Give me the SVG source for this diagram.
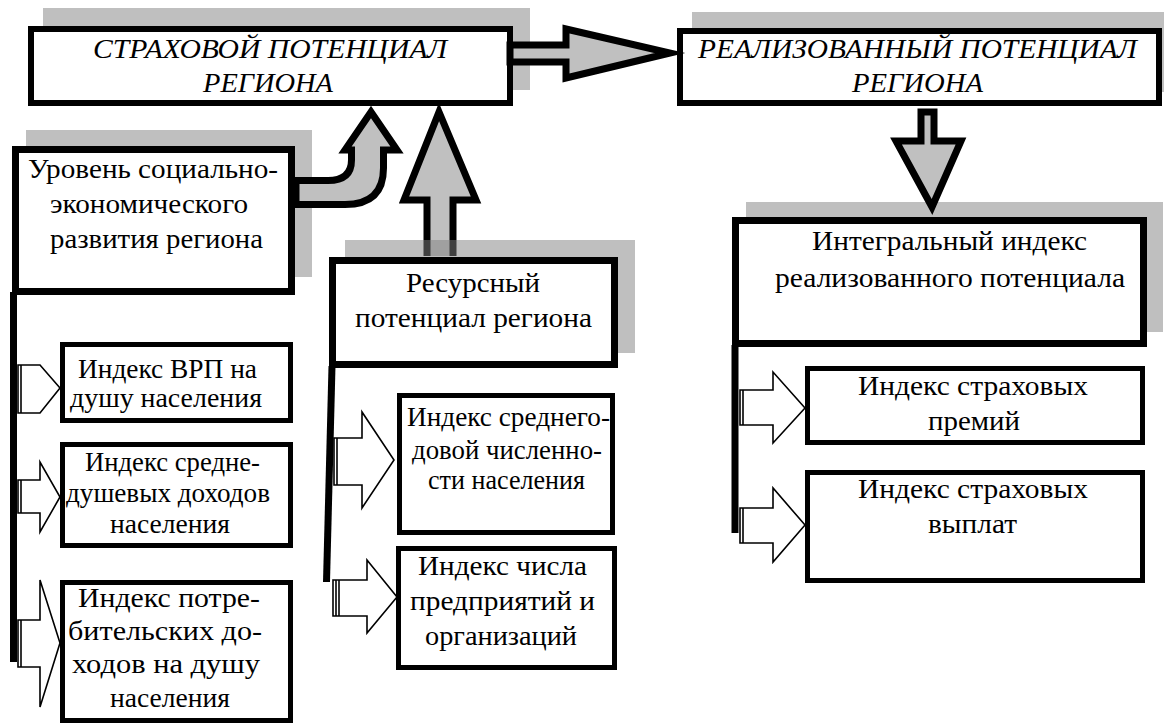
<svg xmlns="http://www.w3.org/2000/svg" width="1164" height="726" viewBox="0 0 1164 726">
<defs>
<path id="bigRight" d="M 510 45 L 566 45 L 566 29 L 670 53 L 566 78 L 566 62 L 510 62 Z"/>
</defs>
<rect x="0" y="0" width="1164" height="726" fill="#ffffff"/>

<g id="node-strakhovoy">
<rect x="43" y="8" width="487" height="82" fill="#808080" fill-opacity="0.5"/>
<rect x="31" y="29" width="479" height="74" fill="#ffffff" stroke="#000000" stroke-width="6"/>
<text font-family="Liberation Serif" font-size="27" font-style="italic" x="93" y="58" textLength="354" lengthAdjust="spacingAndGlyphs">СТРАХОВОЙ ПОТЕНЦИАЛ</text>
<text font-family="Liberation Serif" font-size="27" font-style="italic" x="203" y="92" textLength="130" lengthAdjust="spacingAndGlyphs">РЕГИОНА</text>
</g>

<g id="node-realizovanny">
<rect x="692" y="12" width="472" height="80" fill="#808080" fill-opacity="0.5"/>
<rect x="680" y="31" width="479" height="72" fill="#ffffff" stroke="#000000" stroke-width="6"/>
<text font-family="Liberation Serif" font-size="27" font-style="italic" x="698" y="58" textLength="439" lengthAdjust="spacingAndGlyphs">РЕАЛИЗОВАННЫЙ ПОТЕНЦИАЛ</text>
<text font-family="Liberation Serif" font-size="27" font-style="italic" x="852" y="92" textLength="131" lengthAdjust="spacingAndGlyphs">РЕГИОНА</text>
</g>

<g id="node-uroven">
<rect x="26" y="130" width="286" height="147" fill="#808080" fill-opacity="0.5"/>
<rect x="15.5" y="149.5" width="276" height="142" fill="#ffffff" stroke="#000000" stroke-width="7"/>
<text font-family="Liberation Serif" font-size="27" x="28" y="178" textLength="250" lengthAdjust="spacingAndGlyphs">Уровень социально-</text>
<text font-family="Liberation Serif" font-size="27" x="50" y="213" textLength="198" lengthAdjust="spacingAndGlyphs">экономического</text>
<text font-family="Liberation Serif" font-size="27" x="50" y="248" textLength="213" lengthAdjust="spacingAndGlyphs">развития региона</text>
</g>

<g id="node-integral">
<rect x="746" y="202" width="417" height="130" fill="#808080" fill-opacity="0.5"/>
<rect x="735.5" y="220.5" width="408" height="123" fill="#ffffff" stroke="#000000" stroke-width="7"/>
<text font-family="Liberation Serif" font-size="27" x="812" y="250" textLength="275" lengthAdjust="spacingAndGlyphs">Интегральный индекс</text>
<text font-family="Liberation Serif" font-size="27" x="775" y="287" textLength="350" lengthAdjust="spacingAndGlyphs">реализованного потенциала</text>
</g>

<g id="node-vrp">
<rect x="62.5" y="344.5" width="228" height="76" fill="#ffffff" stroke="#000000" stroke-width="5"/>
<text font-family="Liberation Serif" font-size="27" x="78" y="378" textLength="179" lengthAdjust="spacingAndGlyphs">Индекс ВРП на</text>
<text font-family="Liberation Serif" font-size="27" x="70" y="407" textLength="192" lengthAdjust="spacingAndGlyphs">душу населения</text>
</g>

<g id="node-srednedush">
<rect x="62.5" y="444.5" width="228" height="101" fill="#ffffff" stroke="#000000" stroke-width="5"/>
<text font-family="Liberation Serif" font-size="27" x="85" y="471" textLength="175" lengthAdjust="spacingAndGlyphs">Индекс средне-</text>
<text font-family="Liberation Serif" font-size="27" x="66" y="502" textLength="204" lengthAdjust="spacingAndGlyphs">душевых доходов</text>
<text font-family="Liberation Serif" font-size="27" x="110" y="533" textLength="120" lengthAdjust="spacingAndGlyphs">населения</text>
</g>

<g id="node-potreb">
<rect x="62.5" y="582.5" width="228" height="138" fill="#ffffff" stroke="#000000" stroke-width="5"/>
<text font-family="Liberation Serif" font-size="27" x="78" y="607" textLength="182" lengthAdjust="spacingAndGlyphs">Индекс потре-</text>
<text font-family="Liberation Serif" font-size="27" x="68" y="640" textLength="194" lengthAdjust="spacingAndGlyphs">бительских до-</text>
<text font-family="Liberation Serif" font-size="27" x="72" y="673" textLength="188" lengthAdjust="spacingAndGlyphs">ходов на душу</text>
<text font-family="Liberation Serif" font-size="27" x="110" y="707" textLength="120" lengthAdjust="spacingAndGlyphs">населения</text>
</g>

<g id="node-srednegod">
<rect x="399.5" y="395.5" width="213" height="137" fill="#ffffff" stroke="#000000" stroke-width="5"/>
<text font-family="Liberation Serif" font-size="27" x="407" y="426" textLength="203" lengthAdjust="spacingAndGlyphs">Индекс среднего-</text>
<text font-family="Liberation Serif" font-size="27" x="412" y="459" textLength="190" lengthAdjust="spacingAndGlyphs">довой численно-</text>
<text font-family="Liberation Serif" font-size="27" x="428" y="489" textLength="157" lengthAdjust="spacingAndGlyphs">сти населения</text>
</g>

<g id="node-chisla">
<rect x="398.5" y="548.5" width="216" height="119" fill="#ffffff" stroke="#000000" stroke-width="5"/>
<text font-family="Liberation Serif" font-size="27" x="418" y="575" textLength="169" lengthAdjust="spacingAndGlyphs">Индекс числа</text>
<text font-family="Liberation Serif" font-size="27" x="410" y="610" textLength="185" lengthAdjust="spacingAndGlyphs">предприятий и</text>
<text font-family="Liberation Serif" font-size="27" x="425" y="645" textLength="152" lengthAdjust="spacingAndGlyphs">организаций</text>
</g>

<g id="node-premiy">
<rect x="807.5" y="368.5" width="335" height="74" fill="#ffffff" stroke="#000000" stroke-width="5"/>
<text font-family="Liberation Serif" font-size="27" x="858" y="395" textLength="230" lengthAdjust="spacingAndGlyphs">Индекс страховых</text>
<text font-family="Liberation Serif" font-size="27" x="928" y="430" textLength="92" lengthAdjust="spacingAndGlyphs">премий</text>
</g>

<g id="node-vyplat">
<rect x="807.5" y="472.5" width="335" height="108" fill="#ffffff" stroke="#000000" stroke-width="5"/>
<text font-family="Liberation Serif" font-size="27" x="858" y="498" textLength="230" lengthAdjust="spacingAndGlyphs">Индекс страховых</text>
<text font-family="Liberation Serif" font-size="27" x="928" y="533" textLength="89" lengthAdjust="spacingAndGlyphs">выплат</text>
</g>

<g id="connectors">
<g fill="#c0c0c0" stroke="#000000" stroke-width="7" stroke-linejoin="miter" stroke-miterlimit="12">
<use href="#bigRight"/>
<path d="M 296 180.5 L 328 180.5 Q 351.5 180.5 351.5 160 L 351.5 150 L 345 150 L 371 112 L 397 150 L 383.5 150 L 383.5 168 Q 383.5 204.5 345 204.5 L 296 204.5 Z"/>
<path d="M 427 256 L 427 200 L 404 200 L 439 112 L 476 200 L 453 200 L 453 256"/>
<path d="M 921 112 L 934 112 L 934 141 L 961 141 L 932 207 L 896 141 L 921 141 Z"/>
</g>
<g stroke="#000000" stroke-width="7" fill="none">
<line x1="13.5" y1="292" x2="13.5" y2="662"/>
<line x1="332" y1="366" x2="326.5" y2="582"/>
<line x1="735" y1="345" x2="735" y2="533"/>
</g>
<g fill="#ffffff" stroke="#000000" stroke-width="1.6" stroke-linejoin="miter">
<path d="M 18 365 L 40 365 L 60 388 L 40 413 L 18 413 Z"/>
<line x1="21" y1="365" x2="21" y2="413"/>
<path d="M 18 480 L 40 480 L 40 462 L 60 497 L 40 532 L 40 513 L 18 513 Z"/>
<line x1="21" y1="480" x2="21" y2="513"/>
<path d="M 18 620 L 40 620 L 40 580 L 60 643 L 40 707 L 40 667 L 18 667 Z"/>
<line x1="21" y1="620" x2="21" y2="667"/>
<path d="M 334 438 L 362 438 L 362 412 L 394 460 L 362 508 L 362 485 L 334 485 Z"/>
<line x1="337" y1="438" x2="337" y2="485"/>
<path d="M 333 580 L 367 580 L 367 560 L 397 597 L 367 633 L 367 616 L 333 616 Z"/>
<line x1="336" y1="580" x2="336" y2="616"/>
<line x1="339" y1="580" x2="339" y2="616"/>
<path d="M 740 390 L 773 390 L 773 372 L 805 408 L 773 443 L 773 425 L 740 425 Z"/>
<line x1="743" y1="390" x2="743" y2="425"/>
<path d="M 740 508 L 773 508 L 773 488 L 805 525 L 773 562 L 773 543 L 740 543 Z"/>
<line x1="743" y1="508" x2="743" y2="543"/>
</g>
</g>

<g id="node-resursny">
<rect x="345" y="240" width="290" height="113" fill="#808080" fill-opacity="0.5"/>
<rect x="332.5" y="260.5" width="282" height="104" fill="#ffffff" stroke="#000000" stroke-width="7"/>
<text font-family="Liberation Serif" font-size="27" x="406" y="292" textLength="134" lengthAdjust="spacingAndGlyphs">Ресурсный</text>
<text font-family="Liberation Serif" font-size="27" x="355" y="327" textLength="237" lengthAdjust="spacingAndGlyphs">потенциал региона</text>
</g>
</svg>
